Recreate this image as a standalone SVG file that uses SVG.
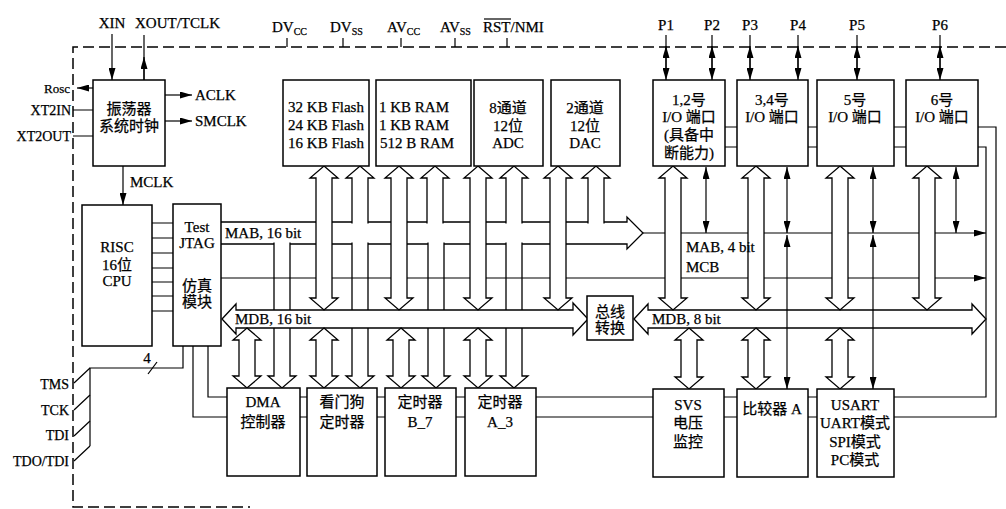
<svg xmlns="http://www.w3.org/2000/svg" width="1006" height="509" viewBox="0 0 1006 509">
<defs>
<style>
.bx{fill:#fff;stroke:#000;stroke-width:1.5}
.ln{fill:none;stroke:#000;stroke-width:1.2}
.hb{fill:#fff;stroke:#000;stroke-width:1.3}
.ar{fill:none;stroke:#000;stroke-width:1.2;marker-end:url(#ah)}
.da{fill:none;stroke:#000;stroke-width:1.2;marker-start:url(#ah);marker-end:url(#ah)}
.dash{fill:none;stroke:#000;stroke-width:1.5;stroke-dasharray:11 5}
text{font-family:"Liberation Serif","Noto Sans CJK SC",serif;font-size:15px;fill:#000;stroke:#000;stroke-width:0.25}
.c{text-anchor:middle}
.e{text-anchor:end}
.sm{font-size:10px}
</style>
<marker id="ah" viewBox="0 0 12 7" refX="12" refY="3.5" markerWidth="12" markerHeight="7" markerUnits="userSpaceOnUse" orient="auto-start-reverse"><path d="M0,0 L12,3.5 L0,7 z" fill="#000" stroke="none"/></marker>
</defs>
<rect width="1006" height="509" fill="#fff"/>

<g id="connectors">
<path class="dash" d="M1006,47 L73,47 L73,507 L250,507"/>
<path class="ln" d="M287,38 V47 M343,38 V47 M401,38 V47 M455,38 V47 M507,38 V47"/>
<path class="ar" d="M112,34 V80"/>
<path class="ln" d="M144,80 V35"/>
<path class="ar" d="M144,80 V57"/>
<path class="ar" d="M666,35 V80"/><path class="ar" d="M666,70 V46"/>
<path class="ar" d="M712,35 V80"/><path class="ar" d="M712,70 V46"/>
<path class="ar" d="M750,35 V80"/><path class="ar" d="M750,70 V46"/>
<path class="ar" d="M798,35 V80"/><path class="ar" d="M798,70 V46"/>
<path class="ar" d="M857,35 V80"/><path class="ar" d="M857,70 V46"/>
<path class="ar" d="M940,35 V80"/><path class="ar" d="M940,70 V46"/>
<path class="ar" d="M93,88 H77"/>
<path class="ln" d="M73,110 H93 M73,136 H93"/>
<path class="ar" d="M165,95 H192"/>
<path class="ar" d="M165,121 H192"/>
<path class="ar" d="M123,166 V205"/>
<path class="ln" d="M152,223 H173 M152,238 H173 M152,253 H173 M152,268 H173 M152,282 H173 M152,296 H173 M152,311 H173"/>
<path class="ln" d="M183,346 V368 H90 V446"/>
<path class="ln" d="M148,374 L157,362"/>
<path class="ln" d="M74,383 L90,368 M74,410 L90,395 M74,436 L90,421 M74,461 L90,446"/>
<path class="ln" d="M208,346 V397 H227 M193,346 V417 H227"/>
<path class="ln" d="M300,397 H307 M300,417 H307 M377,397 H385 M377,417 H385 M456,397 H465 M456,417 H465 M536,397 H653 M536,417 H653 M724,397 H737 M724,417 H737 M808,397 H817 M808,417 H817"/>
<path class="ln" d="M894,397 H986 V147 H978 M894,417 H996 V127 H978"/>
<path class="ln" d="M725,127 H737 M725,147 H737 M808,127 H817 M808,147 H817 M894,127 H906 M894,147 H906"/>

<path class="hb" d="M221,222 H627 V217 L643,233 L627,249 V244 H221"/>
<path class="hb" d="M352,223.5 V178 H346 L360,166 L374,178 H368 V223.5"/>
<path class="hb" d="M427,223.5 V178 H421 L435,166 L449,178 H443 V223.5"/>
<path class="hb" d="M506,223.5 V178 H500 L514,166 L528,178 H522 V223.5"/>
<path class="hb" d="M588,223.5 V178 H582 L596,166 L610,178 H604 V223.5"/>
<path class="hb" d="M274,242.5 V376 H268 L282,388 L296,376 H290 V242.5"/>
<path class="hb" d="M352,242.5 V376 H346 L360,388 L374,376 H368 V242.5"/>
<path class="hb" d="M428,242.5 V376 H422 L436,388 L450,376 H444 V242.5"/>
<path class="hb" d="M506,242.5 V376 H500 L514,388 L528,376 H522 V242.5"/>

<path class="ar" d="M221,278 H986"/>
<path class="ar" d="M643,233 H986"/>

<path class="hb" d="M222,319 L236,304 V310 H573 V303 L588,319 L573,335 V328 H236 V334 Z"/>
<path class="hb" d="M634,319 L648,304 V310 H972 V304 L986,319 L972,334 V328 H648 V334 Z"/>

<polygon class="hb" points="324,166 338,178 332,178 332,298 338,298 324,310 310,298 316,298 316,178 310,178"/>
<polygon class="hb" points="399,166 413,178 407,178 407,298 413,298 399,310 385,298 391,298 391,178 385,178"/>
<polygon class="hb" points="478,166 492,178 486,178 486,298 492,298 478,310 464,298 470,298 470,178 464,178"/>
<polygon class="hb" points="558,166 572,178 566,178 566,298 572,298 558,310 544,298 550,298 550,178 544,178"/>
<polygon class="hb" points="673,166 687,178 681,178 681,298 687,298 673,310 659,298 665,298 665,178 659,178"/>
<polygon class="hb" points="756,166 770,178 764,178 764,298 770,298 756,310 742,298 748,298 748,178 742,178"/>
<polygon class="hb" points="840,166 854,178 848,178 848,298 854,298 840,310 826,298 832,298 832,178 826,178"/>
<polygon class="hb" points="927,166 941,178 935,178 935,298 941,298 927,310 913,298 919,298 919,178 913,178"/>

<polygon class="hb" points="247,328 261,340 255,340 255,376 261,376 247,388 233,376 239,376 239,340 233,340"/>
<polygon class="hb" points="324,328 338,340 332,340 332,376 338,376 324,388 310,376 316,376 316,340 310,340"/>
<polygon class="hb" points="401,328 415,340 409,340 409,376 415,376 401,388 387,376 393,376 393,340 387,340"/>
<polygon class="hb" points="478,328 492,340 486,340 486,376 492,376 478,388 464,376 470,376 470,340 464,340"/>
<polygon class="hb" points="689,328 703,340 697,340 697,377 703,377 689,389 675,377 681,377 681,340 675,340"/>
<polygon class="hb" points="756,328 770,340 764,340 764,377 770,377 756,389 742,377 748,377 748,340 742,340"/>
<polygon class="hb" points="840,328 854,340 848,340 848,377 854,377 840,389 826,377 832,377 832,340 826,340"/>

<path class="da" d="M706,167 V233"/>
<path class="da" d="M787,167 V233"/><path class="da" d="M787,235 V389"/>
<path class="da" d="M873,167 V233"/><path class="da" d="M873,235 V389"/>
<path class="da" d="M956,167 V233"/>

<text x="225" y="238">MAB, 16 bit</text>
<text x="235" y="324">MDB, 16 bit</text>
<text x="652" y="324">MDB, 8 bit</text>
<text x="686" y="252">MAB, 4 bit</text>
<text x="686" y="272">MCB</text>
<text class="c" x="147" y="363">4</text>
</g>

<g id="pins">
<text class="c" x="112" y="28">XIN</text>
<text x="135" y="28">XOUT/TCLK</text>
<text x="272" y="32">DV<tspan class="sm" dy="3">CC</tspan></text>
<text x="330" y="32">DV<tspan class="sm" dy="3">SS</tspan></text>
<text x="387" y="32">AV<tspan class="sm" dy="3">CC</tspan></text>
<text x="440" y="32">AV<tspan class="sm" dy="3">SS</tspan></text>
<text x="483" y="32">RST/NMI</text>
<path class="ln" d="M484,19 H511"/>
<text class="c" x="666" y="30">P1</text>
<text class="c" x="712" y="30">P2</text>
<text class="c" x="750" y="30">P3</text>
<text class="c" x="798" y="30">P4</text>
<text class="c" x="857" y="30">P5</text>
<text class="c" x="940" y="30">P6</text>
<text class="e" x="70" y="93" style="font-size:13px">Rosc</text>
<text class="e" x="71" y="115" style="font-size:14px">XT2IN</text>
<text class="e" x="71" y="141" style="font-size:14px">XT2OUT</text>
<text x="195" y="100">ACLK</text>
<text x="195" y="126">SMCLK</text>
<text x="130" y="187">MCLK</text>
<text class="e" x="69" y="389" style="font-size:14px">TMS</text>
<text class="e" x="69" y="415" style="font-size:14px">TCK</text>
<text class="e" x="69" y="440" style="font-size:14px">TDI</text>
<text class="e" x="69" y="466" style="font-size:14px">TDO/TDI</text>
</g>

<g id="osc"><rect class="bx" x="93" y="80" width="72" height="86"/>
<text class="c" x="129" y="114">振荡器</text><text class="c" x="129" y="131">系统时钟</text></g>
<g id="cpu"><rect class="bx" x="82" y="205" width="70" height="141"/>
<text class="c" x="117" y="252">RISC</text><text class="c" x="117" y="270">16位</text><text class="c" x="117" y="286">CPU</text></g>
<g id="jtag"><rect class="bx" x="173" y="204" width="48" height="142"/>
<text class="c" x="197" y="232">Test</text><text class="c" x="197" y="248">JTAG</text><text class="c" x="197" y="291">仿真</text><text class="c" x="197" y="307">模块</text></g>
<g id="flash"><rect class="bx" x="283" y="80" width="86" height="86"/>
<text class="c" x="326" y="112">32 KB Flash</text><text class="c" x="326" y="130">24 KB Flash</text><text class="c" x="326" y="148">16 KB Flash</text></g>
<g id="ram"><rect class="bx" x="376" y="80" width="95" height="86"/>
<text x="379" y="112">1 KB RAM</text><text x="379" y="130">1 KB RAM</text><text x="380" y="148">512 B RAM</text></g>
<g id="adc"><rect class="bx" x="474" y="80" width="69" height="86"/>
<text class="c" x="508" y="113">8通道</text><text class="c" x="508" y="131">12位</text><text class="c" x="508" y="148">ADC</text></g>
<g id="dac"><rect class="bx" x="551" y="80" width="69" height="86"/>
<text class="c" x="585" y="113">2通道</text><text class="c" x="585" y="131">12位</text><text class="c" x="585" y="148">DAC</text></g>
<g id="io12"><rect class="bx" x="653" y="80" width="72" height="86"/>
<text class="c" x="689" y="105">1,2号</text><text class="c" x="689" y="122">I/O 端口</text><text class="c" x="689" y="140">(具备中</text><text class="c" x="689" y="158">断能力)</text></g>
<g id="io34"><rect class="bx" x="737" y="80" width="71" height="86"/>
<text class="c" x="772" y="105">3,4号</text><text class="c" x="772" y="122">I/O 端口</text></g>
<g id="io5"><rect class="bx" x="817" y="80" width="77" height="86"/>
<text class="c" x="855" y="105">5号</text><text class="c" x="855" y="122">I/O 端口</text></g>
<g id="io6"><rect class="bx" x="906" y="80" width="72" height="86"/>
<text class="c" x="942" y="105">6号</text><text class="c" x="942" y="122">I/O 端口</text></g>
<g id="busconv"><rect class="bx" x="587" y="296" width="46" height="44"/>
<text class="c" x="610" y="317">总线</text><text class="c" x="610" y="333">转换</text></g>
<g id="dma"><rect class="bx" x="227" y="388" width="73" height="88"/>
<text class="c" x="263" y="407">DMA</text><text class="c" x="263" y="427">控制器</text></g>
<g id="wdt"><rect class="bx" x="307" y="388" width="70" height="88"/>
<text class="c" x="342" y="407">看门狗</text><text class="c" x="342" y="427">定时器</text></g>
<g id="timerb"><rect class="bx" x="385" y="388" width="71" height="88"/>
<text class="c" x="420" y="407">定时器</text><text class="c" x="420" y="427">B_7</text></g>
<g id="timera"><rect class="bx" x="465" y="388" width="71" height="88"/>
<text class="c" x="500" y="407">定时器</text><text class="c" x="500" y="427">A_3</text></g>
<g id="svs"><rect class="bx" x="653" y="389" width="71" height="88"/>
<text class="c" x="688" y="410">SVS</text><text class="c" x="688" y="428">电压</text><text class="c" x="688" y="447">监控</text></g>
<g id="comp"><rect class="bx" x="737" y="389" width="71" height="88"/>
<text class="c" x="772" y="414">比较器 A</text></g>
<g id="usart"><rect class="bx" x="817" y="389" width="77" height="88"/>
<text class="c" x="855" y="410">USART</text><text class="c" x="855" y="428">UART模式</text><text class="c" x="855" y="447">SPI模式</text><text class="c" x="855" y="465">PC模式</text></g>
</svg>
